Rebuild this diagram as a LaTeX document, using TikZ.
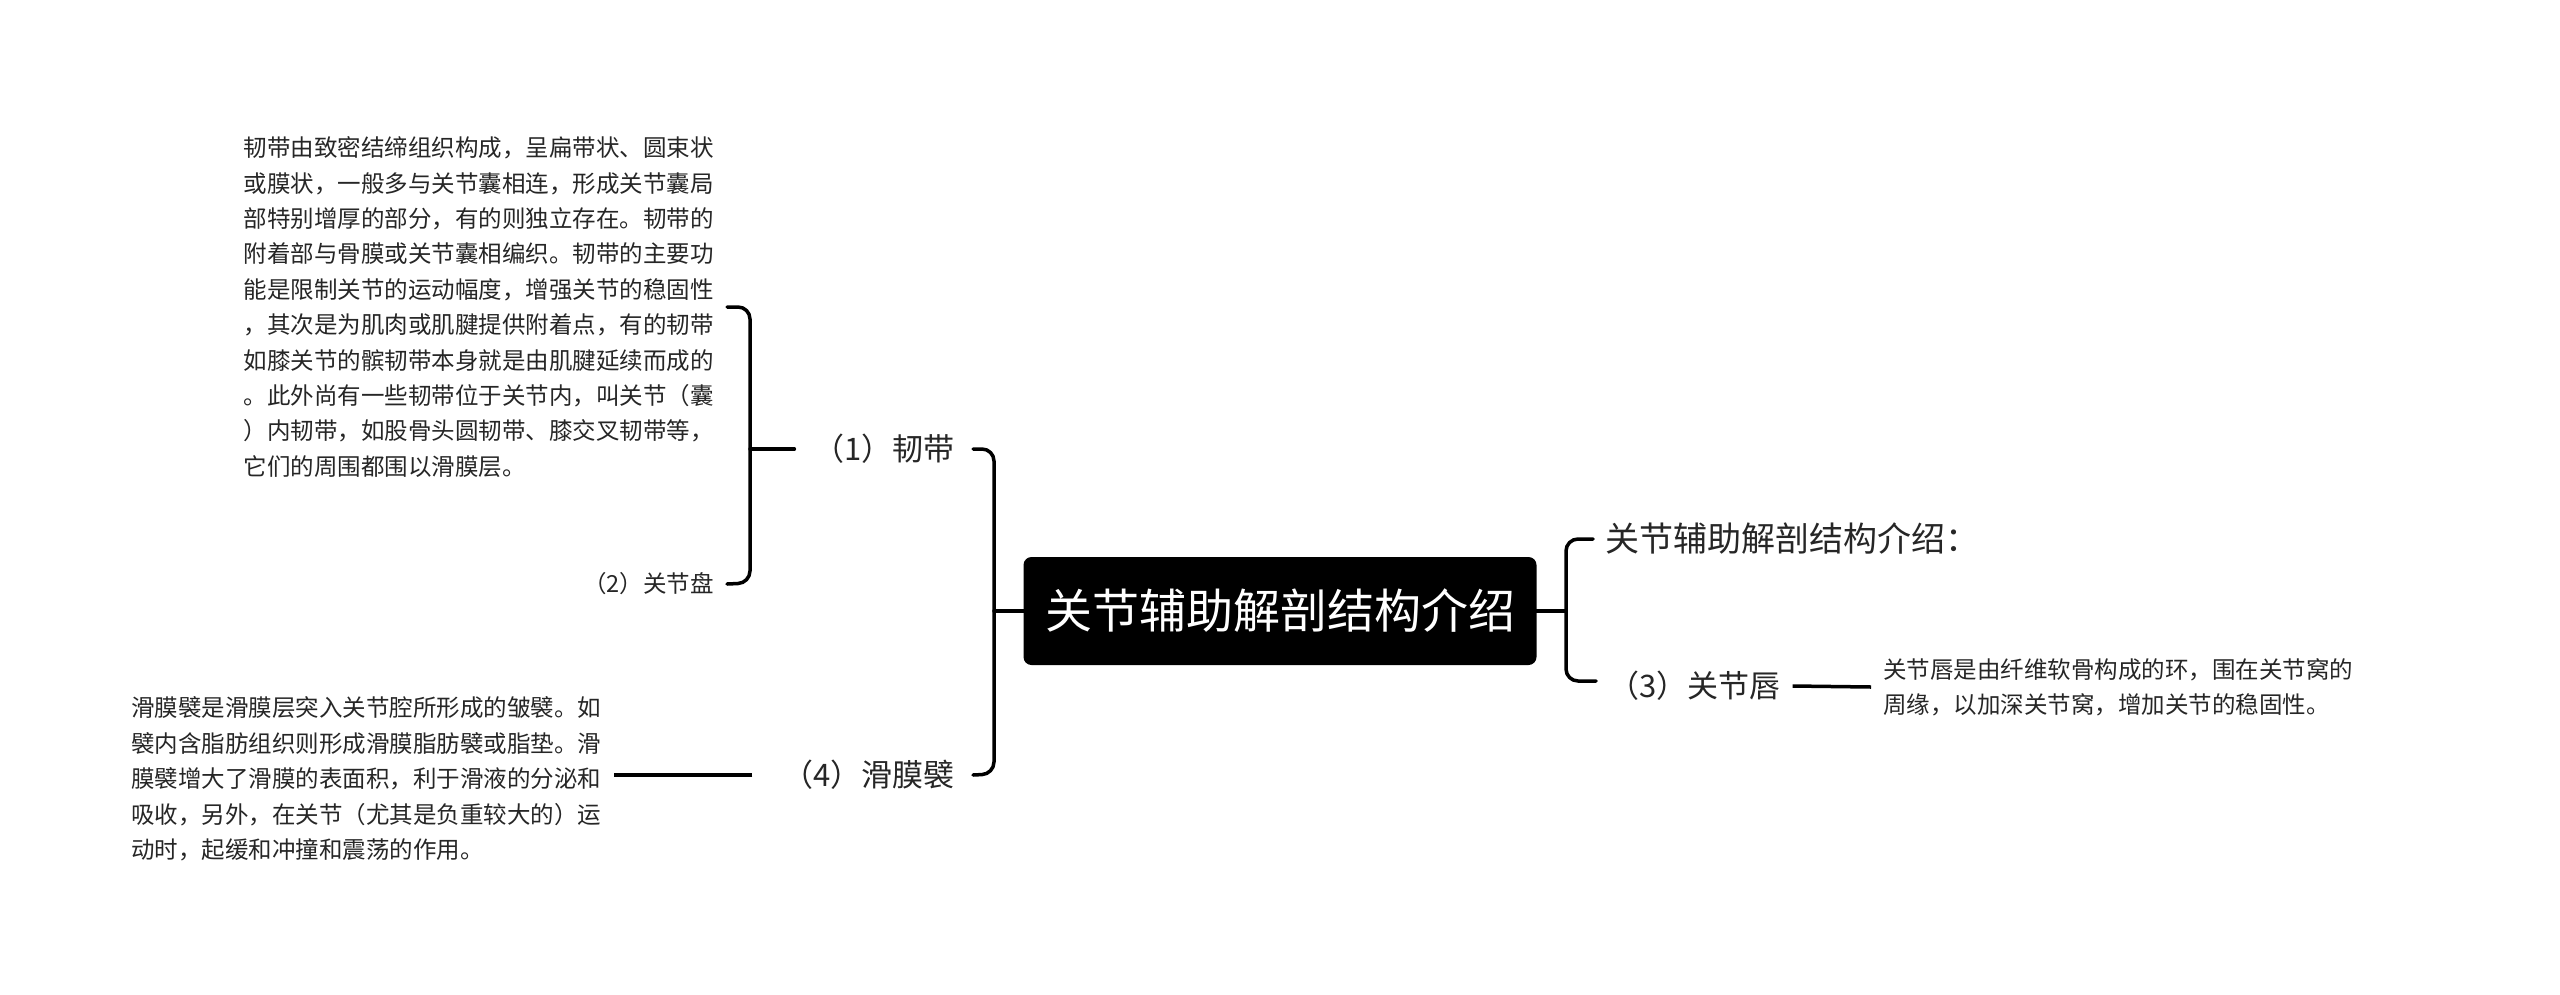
\documentclass[tikz,border=0pt]{standalone}
\usepackage{fontspec}
\setmainfont{Noto Sans CJK SC}
\begin{document}
\begin{tikzpicture}[x=1pt,y=-1pt,
  conn/.style={line width=3.5pt,rounded corners=12pt,line cap=round},
  desc/.style={font=\fontsize{23.5}{35.4}\selectfont,align=left,inner sep=0pt,text=black!85},
  sub/.style={font=\fontsize{31}{36}\selectfont,inner sep=0pt,text=black!85}]
\useasboundingbox (0,0) rectangle (2560,994);
\node[fill=black,rounded corners=8pt,minimum width=513pt,minimum height=108pt,text=white,font=\fontsize{47}{50}\selectfont] (root) at (1280,611) {关节辅助解剖结构介绍};
% right side
\node[sub,anchor=west,font=\fontsize{34}{40}\selectfont] (intro) at (1605,539) {关节辅助解剖结构介绍：};
\node[sub,anchor=west] (lip) at (1608,686) {（3）关节唇};
\node[desc,anchor=west] (lipd) at (1883,687) {关节唇是由纤维软骨构成的环，围在关节窝的\\周缘，以加深关节窝，增加关节的稳固性。};
\coordinate (rj) at (1566,611);
\draw[conn] (root.east) -- (rj);
\draw[conn] (intro.west) ++(-12,0) -- (1566,539) -- (1566,681) -- ([xshift=-12pt]lip.west |- 0,681);
\draw[line width=3.5pt] ([xshift=12pt]lip.east) -- ([xshift=-12pt]lipd.west);
% left side
\node[sub,anchor=east] (lig) at (955,449) {（1）韧带};
\node[sub,anchor=east] (syn) at (955,775) {（4）滑膜襞};
\draw[conn] (root.west) -- (994,611);
\draw[conn] ([xshift=18pt]lig.east) -- (994,449) -- (994,774) -- ([xshift=18pt]syn.east);
\node[desc,anchor=east] (ligd) at (714,307) {韧带由致密结缔组织构成，呈扁带状、圆束状\\或膜状，一般多与关节囊相连，形成关节囊局\\部特别增厚的部分，有的则独立存在。韧带的\\附着部与骨膜或关节囊相编织。韧带的主要功\\能是限制关节的运动幅度，增强关节的稳固性\\，其次是为肌肉或肌腱提供附着点，有的韧带\\如膝关节的髌韧带本身就是由肌腱延续而成的\\。此外尚有一些韧带位于关节内，叫关节（囊\\）内韧带，如股骨头圆韧带、膝交叉韧带等，\\它们的周围都围以滑膜层。};
\node[desc,anchor=east] (disc) at (714,584) {（2）关节盘};
\draw[conn] ([xshift=-19pt]lig.west) -- (750,449);
\draw[conn] ([xshift=13pt]ligd.east) -- (750,307) -- (750,583) -- ([xshift=13pt]disc.east);
\node[desc,anchor=west] (synd) at (131,779) {滑膜襞是滑膜层突入关节腔所形成的皱襞。如\\襞内含脂肪组织则形成滑膜脂肪襞或脂垫。滑\\膜襞增大了滑膜的表面积，利于滑液的分泌和\\吸收，另外，在关节（尤其是负重较大的）运\\动时，起缓和冲撞和震荡的作用。};
\draw[line width=3.5pt] ([xshift=-30pt]syn.west) -- ([xshift=13pt]synd.east |- syn.west);
\end{tikzpicture}
\end{document}
